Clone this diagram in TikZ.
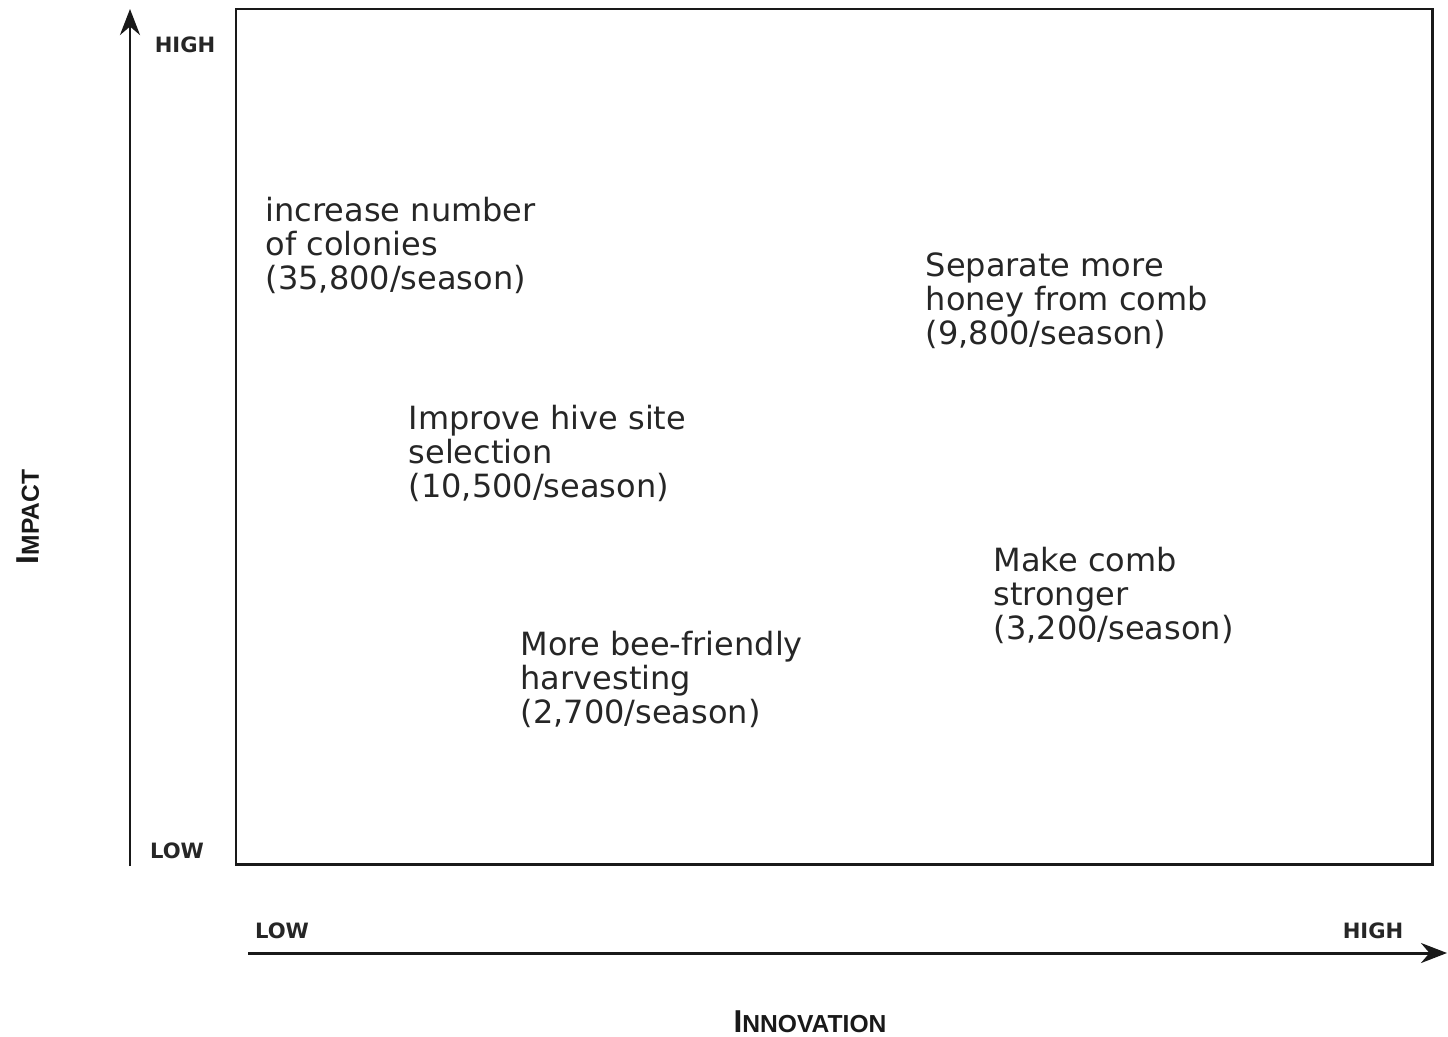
\documentclass[tikz,border=0pt]{standalone}
\usepackage{fontspec}
\setmainfont{DejaVu Sans}
\newfontfamily\axisfont{Liberation Sans}
\usetikzlibrary{arrows.meta, positioning}

\tikzset{
    idea/.style={anchor=north west, inner sep=0pt, align=left, text=black!85, font=\fontsize{9.1}{9.7}\selectfont},
    level/.style={inner sep=0pt, text=black!85, font=\fontsize{6}{7}\selectfont\bfseries},
    axistitle/.style={inner sep=0pt, text=black!90, font=\axisfont\bfseries},
    axis/.style={line width=0.85pt, black!90, -{Stealth[length=2.6mm, width=2mm]}}
}

\begin{document}
\begin{tikzpicture}[x=0.01cm, y=-0.01cm]
        \useasboundingbox (0,0) rectangle (1448,1036);
        % Frame
        \draw[line width=0.85pt, black!90] (236,9) rectangle (1432,864);
        % Axes
        \coordinate (ylow) at (130,866);
        \coordinate (yhigh) at (130,9);
        \coordinate (xlow) at (248,953);
        \coordinate (xhigh) at (1447,953);
        \draw[axis] (ylow) -- (yhigh);
        \draw[axis] (xlow) -- (xhigh);
        % Axis levels
        \node[level] (ytop) at (185,45) {HIGH};
        \node[level] (ybottom) at (177,851) {LOW};
        \node[level] (xleft) at (282,931) {LOW};
        \node[level] (xright) at (1373,931) {HIGH};
        % Axis titles
        \node[axistitle, rotate=90] (impact) at (28,517) {{\fontsize{9}{10}\selectfont I}{\fontsize{7}{8}\selectfont MPACT}};
        \node[axistitle] (innovation) at (810,1022) {{\fontsize{9}{10}\selectfont I}{\fontsize{7}{8}\selectfont NNOVATION}};
        % Ideas
        \node[idea] (colonies) at (265,196) {increase number\\of colonies\\(35,800/season)};
        \node[idea] (honey) at (925,252) {Separate more\\honey from comb\\(9,800/season)};
        \node[idea] (hivesite) at (408,404) {Improve hive site\\selection\\(10,500/season)};
        \node[idea] (comb) at (993,546) {Make comb\\stronger\\(3,200/season)};
        \node[idea] (harvest) at (520,630) {More bee-friendly\\harvesting\\(2,700/season)};
    \end{tikzpicture}
\end{document}
